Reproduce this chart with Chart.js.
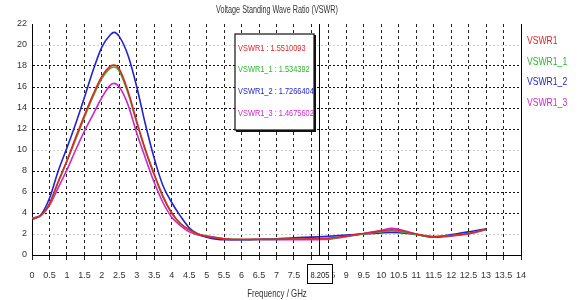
<!DOCTYPE html>
<html>
<head>
<meta charset="utf-8">
<script src="https://cdn.jsdelivr.net/npm/chart.js@4/dist/chart.umd.min.js"></script>
<style>
  html, body { margin: 0; padding: 0; background: #fff; }
  #wrap { width: 581px; height: 300px; position: relative; }
</style>
</head>
<body>
<div id="wrap"><canvas id="vswr"></canvas></div>
<script>
// VSWR sweep, four simulated variants, with a marker at 8.205 GHz.
const freqs = [0, 0.25, 0.5, 0.75, 1, 1.25, 1.5, 1.75, 2, 2.25, 2.35, 2.5, 2.75, 3, 3.25, 3.5, 3.75, 4, 4.25, 4.5,
  4.75, 5, 5.5, 6, 6.5, 7, 7.5, 8, 8.205, 8.5, 9, 9.5, 10, 10.3, 10.5, 11, 11.5, 12, 12.5, 13];
const vswr1 = [3.5, 3.75, 4.9, 7.0, 9.0, 11.2, 13.3, 15.3, 17.0, 18.0, 18.1, 17.7, 15.6, 12.7, 10.0, 7.7, 5.6, 4.0, 3.0, 2.4,
  2.0, 1.8, 1.55, 1.5, 1.5, 1.5, 1.52, 1.54, 1.551, 1.6, 1.8, 2.05, 2.3, 2.4, 2.35, 2.0, 1.75, 1.85, 2.05, 2.45];
const vswr1_1 = [3.5, 3.75, 4.85, 6.9, 8.9, 11.0, 13.1, 15.1, 16.8, 17.8, 17.9, 17.5, 15.4, 12.6, 9.9, 7.6, 5.5, 4.0, 3.0, 2.4,
  2.0, 1.8, 1.55, 1.48, 1.48, 1.49, 1.5, 1.52, 1.534, 1.58, 1.78, 2.0, 2.22, 2.3, 2.25, 1.95, 1.75, 1.85, 2.05, 2.45];
const vswr1_2 = [3.4, 3.8, 5.4, 8.0, 10.2, 12.5, 15.0, 17.6, 19.8, 21.0, 21.2, 20.8, 19.0, 16.0, 12.4, 9.2, 6.6, 5.0, 3.7, 2.6,
  2.0, 1.7, 1.45, 1.45, 1.5, 1.55, 1.65, 1.7, 1.727, 1.78, 1.9, 2.0, 2.1, 2.15, 2.12, 1.95, 1.7, 1.95, 2.2, 2.5];
const vswr1_3 = [3.5, 3.75, 4.7, 6.4, 8.1, 10.0, 11.8, 13.4, 15.0, 16.2, 16.35, 16.0, 14.3, 11.6, 9.2, 6.9, 5.0, 3.6, 2.8, 2.2,
  1.9, 1.75, 1.5, 1.45, 1.45, 1.45, 1.46, 1.46, 1.468, 1.5, 1.75, 2.05, 2.35, 2.55, 2.45, 2.0, 1.7, 1.8, 2.0, 2.4];

const seriesNames = ['VSWR1', 'VSWR1_1', 'VSWR1_2', 'VSWR1_3'];
const seriesColors = ['#e0262a', '#2db52d', '#2323d2', '#cc28cc'];
const markerFreq = 8.205;
const markerLabel = '8.205';
const markerReadouts = ['1.5510093', '1.534392', '1.7266404', '1.4675602'];

const FONT = '"Liberation Sans", Arial, sans-serif';

const pts = ys => freqs.map((f, i) => ({ x: f, y: ys[i] }));
const allSeries = [vswr1, vswr1_1, vswr1_2, vswr1_3];

// the source uses a narrow UI font, so squeeze the text horizontally
function narrowText(ctx, text, x, y, squeeze) {
  const w = ctx.measureText(text).width;
  ctx.fillText(text, x, y, w * squeeze);
}

// title, right-hand name list, marker line with its boxed label, readout box
const decorations = {
  id: 'decorations',
  afterDatasetsDraw(chart) {
    const { ctx, chartArea: a, scales: { x } } = chart;
    ctx.save();

    // right frame edge
    ctx.strokeStyle = '#000';
    ctx.lineWidth = 1;
    ctx.beginPath();
    ctx.moveTo(a.right + 0.5, a.top);
    ctx.lineTo(a.right + 0.5, a.bottom);
    ctx.stroke();

    // marker
    const mx = Math.round(x.getPixelForValue(markerFreq)) + 0.5;
    ctx.beginPath();
    ctx.moveTo(mx, a.top);
    ctx.lineTo(mx, a.bottom);
    ctx.stroke();

    ctx.font = '9.5px ' + FONT;
    ctx.fillStyle = '#fff';
    ctx.fillRect(mx - 12, a.bottom + 9, 26, 19);
    ctx.strokeRect(mx - 12, a.bottom + 9.5, 25, 19);
    ctx.fillStyle = '#222';
    ctx.textAlign = 'center';
    ctx.textBaseline = 'middle';
    narrowText(ctx, markerLabel, mx + 0.5, a.bottom + 20, 0.8);

    // readout box
    const bx = 235, by = 34, bw = 79, bh = 96;
    ctx.fillStyle = '#fff';
    ctx.fillRect(bx, by, bw, bh);
    ctx.lineWidth = 1.2;
    ctx.strokeStyle = '#111';
    ctx.strokeRect(bx, by, bw, bh);
    ctx.lineWidth = 2;
    ctx.beginPath();
    ctx.moveTo(bx + bw + 1, by + 1);
    ctx.lineTo(bx + bw + 1, by + bh + 1);
    ctx.lineTo(bx + 1, by + bh + 1);
    ctx.stroke();
    ctx.textAlign = 'left';
    ctx.font = '9.5px ' + FONT;
    seriesNames.forEach((n, i) => {
      ctx.fillStyle = seriesColors[i];
      narrowText(ctx, n + ' : ' + markerReadouts[i], bx + 3, by + 14 + i * 21.7, 0.78);
    });

    // names to the right of the plot
    ctx.font = '10.5px ' + FONT;
    seriesNames.forEach((n, i) => {
      ctx.fillStyle = seriesColors[i];
      narrowText(ctx, n, a.right + 6, 41 + i * 20.7, 0.82);
    });

    // title and axis title
    ctx.fillStyle = '#333';
    ctx.textAlign = 'center';
    ctx.font = '10px ' + FONT;
    narrowText(ctx, 'Voltage Standing Wave Ratio (VSWR)', 277, 10, 0.72);
    ctx.font = '10.5px ' + FONT;
    narrowText(ctx, 'Frequency / GHz', 277, 294, 0.75);
    ctx.restore();
  }
};

new Chart(document.getElementById('vswr').getContext('2d'), {
  type: 'line',
  data: {
    datasets: allSeries.map((ys, i) => ({
      label: seriesNames[i],
      data: pts(ys),
      borderColor: seriesColors[i],
      borderWidth: 1.6,
      pointRadius: 0,
      cubicInterpolationMode: 'monotone',
      fill: false
    }))
  },
  options: {
    responsive: true,
    maintainAspectRatio: false,
    animation: false,
    events: [],
    layout: { padding: { top: 24, right: 60, left: 0, bottom: 0 } },
    plugins: { legend: { display: false }, title: { display: false }, tooltip: { enabled: false } },
    scales: {
      x: {
        type: 'linear',
        min: 0,
        max: 14,
        afterFit: s => { s.height = 45; },
        ticks: {
          stepSize: 0.5,
          autoSkip: false,
          maxRotation: 0,
          padding: 10,
          color: '#333',
          font: { family: FONT, size: 9 },
          callback: v => String(v)
        },
        grid: { color: '#222', lineWidth: 1, tickLength: 5, drawTicks: true },
        border: { display: true, color: '#000', width: 1, dash: [3, 3] }
      },
      y: {
        min: 0,
        max: 22,
        afterFit: s => { s.width = 32; },
        ticks: {
          stepSize: 2,
          padding: 5,
          color: '#333',
          font: { family: FONT, size: 9 }
        },
        grid: {
          color: ctx => {
            const v = ctx.tick ? ctx.tick.value : 0;
            if (v === 22) return 'rgba(0,0,0,0)';
            if (v === 2 || v === 10 || v === 20) return '#cfcfcf';
            return '#111';
          },
          lineWidth: 1,
          drawTicks: false
        },
        border: { display: true, color: '#000', width: 1, dash: [2, 2] }
      }
    }
  },
  plugins: [decorations]
});
</script>
</body>
</html>
